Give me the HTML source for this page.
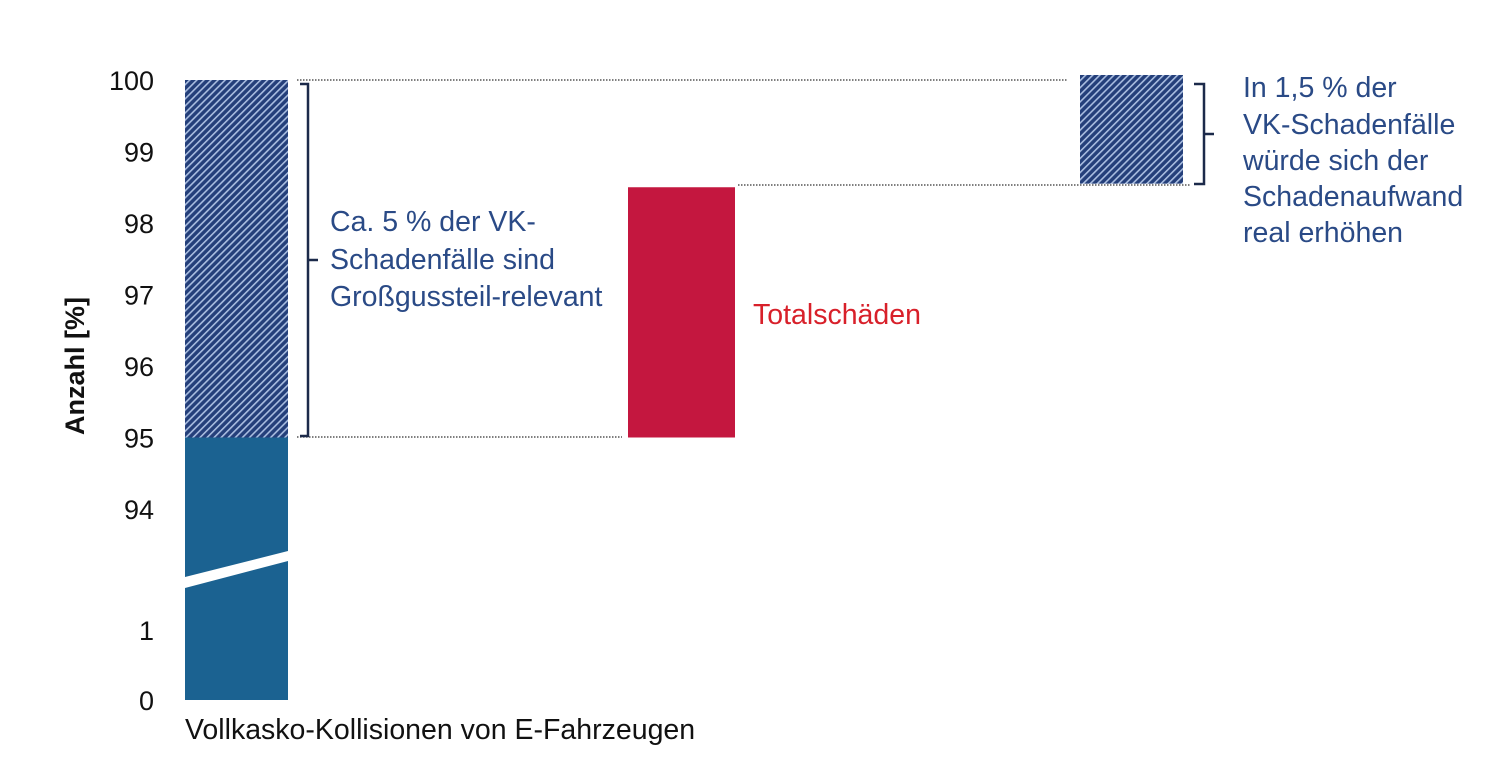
<!DOCTYPE html>
<html><head><meta charset="utf-8"><style>
html,body{margin:0;padding:0;background:#fff;}
svg{display:block;font-family:"Liberation Sans",sans-serif;}
</style></head><body>
<svg id="chart" width="1505" height="766" viewBox="0 0 1505 766">
<defs>
<pattern id="hatch" patternUnits="userSpaceOnUse" width="5" height="5" patternTransform="rotate(45)">
<rect width="5" height="5" fill="#243f7a"/>
<rect x="0" y="0" width="1.6" height="5" fill="#a9bde0"/>
</pattern>
</defs>
<g id="axis"></g>
<g id="marks"></g>
<text transform="translate(84,366) rotate(-90)" text-anchor="middle" font-size="27" font-weight="bold" fill="#111">Anzahl [%]</text>
<text x="185" y="739" font-size="28.5" fill="#111">Vollkasko-Kollisionen von E-Fahrzeugen</text>
<g stroke="#333" stroke-width="1.3" stroke-dasharray="1.5,1.5">
<line x1="297" y1="80" x2="1068" y2="80"/>
<line x1="297" y1="437" x2="622" y2="437"/>
<line x1="738" y1="185" x2="1190" y2="185"/>
</g>
<path d="M300 84 H308 V436 H300 M308 260 H318" fill="none" stroke="#1c2a4a" stroke-width="2.5"/>
<path d="M1194 84 H1204 V184 H1194 M1204 134 H1214" fill="none" stroke="#1c2a4a" stroke-width="2.5"/>
<g font-size="28.5" fill="#2a4a86">
<text x="330" y="231">Ca. 5 % der VK-</text>
<text x="330" y="269">Schadenfälle sind</text>
<text x="330" y="306">Großgussteil-relevant</text>
</g>
<text x="753" y="324" font-size="28.5" fill="#d8202a">Totalschäden</text>
<g font-size="28.5" fill="#2a4a86">
<text x="1243" y="97">In 1,5 % der</text>
<text x="1243" y="134">VK-Schadenfälle</text>
<text x="1243" y="170">würde sich der</text>
<text x="1243" y="206">Schadenaufwand</text>
<text x="1243" y="242">real erhöhen</text>
</g>
</svg>
<script>
const upperTicks = [94, 95, 96, 97, 98, 99, 100];
const lowerTicks = [0, 1];
const barBase = [0, 95, 98.55];
const barTop = [95, 98.5, 100.07];
const hatchTop = [100, null, null];
const barColors = ["#1b6291", "#c4173f", "url(#hatch)"];
const barNames = ["bar-vollkasko", "bar-totalschaeden", "bar-schadenaufwand"];
const barX = [185, 628, 1080];
const barWs = [103, 107, 103];

function yScale(v){
  if (v >= 90) return 80 + (100 - v) * 71.5;
  return 700 - v * 70;
}
const ns = "http://www.w3.org/2000/svg";
const axis = document.getElementById('axis');
const marks = document.getElementById('marks');
function mk(tag, attrs, parent){
  const e = document.createElementNS(ns, tag);
  for (const k in attrs) e.setAttribute(k, attrs[k]);
  parent.appendChild(e); return e;
}
upperTicks.concat(lowerTicks).forEach(t => {
  const e = mk('text', {x: 154, y: yScale(t) + 10, 'text-anchor': 'end', 'font-size': 27, fill: '#111'}, axis);
  
  
  e.textContent = t;
});
barBase.forEach((b, i) => {
  const y0 = yScale(b), y1 = yScale(barTop[i]);
  const r = mk('rect', {x: barX[i], y: y1, width: barWs[i], height: y0 - y1, fill: barColors[i]}, marks);
  
  
  if (hatchTop[i] !== null) {
    const yt = yScale(hatchTop[i]);
    const h = mk('rect', {x: barX[i], y: yt, width: barWs[i], height: y1 - yt, fill: 'url(#hatch)'}, marks);
    
    
  }
});
const br = mk('polygon', {points: (barX[0]) + ',577 ' + (barX[0]+barWs[0]) + ',551 ' + (barX[0]+barWs[0]) + ',561 ' + barX[0] + ',588', fill: '#fff'}, marks);


</script>
</body></html>
